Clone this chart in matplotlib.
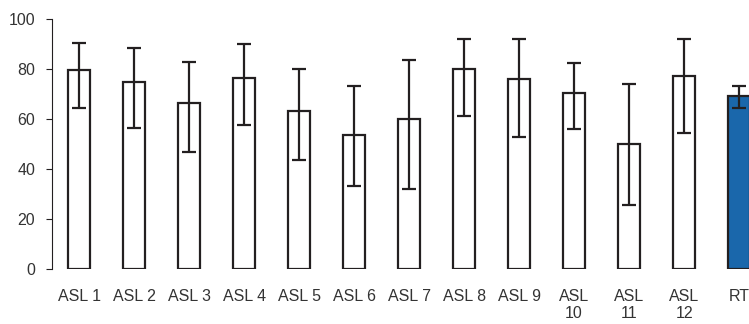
import matplotlib.pyplot as plt
import numpy as np

plt.rcParams['font.family'] = ['Liberation Sans', 'DejaVu Sans']

labels = ['ASL 1', 'ASL 2', 'ASL 3', 'ASL 4', 'ASL 5', 'ASL 6', 'ASL 7',
          'ASL 8', 'ASL 9', 'ASL\n10', 'ASL\n11', 'ASL\n12', 'RT']
means = [79.6, 75.0, 66.6, 76.6, 63.3, 53.7, 60.1, 80.0, 76.1, 70.6, 50.0, 77.3, 69.3]
err_high = [90.4, 88.6, 82.9, 90.2, 80.0, 73.3, 83.7, 92.2, 92.0, 82.6, 74.0, 92.1, 73.4]
err_low = [64.6, 56.6, 47.0, 57.6, 43.8, 33.3, 32.2, 61.3, 52.8, 56.2, 25.8, 54.5, 64.6]

ink = '#231f20'
fills = ['white'] * 12 + ['#1a67ab']

means = np.array(means)
yerr = [means - np.array(err_low), np.array(err_high) - means]
x = np.arange(len(labels))

fig = plt.figure(figsize=(7.49, 3.24), dpi=100)
ax = fig.add_axes([0.069, 0.169, 0.931, 0.771])

ax.bar(x, means, width=0.4, color=fills, edgecolor=ink, linewidth=1.6,
       yerr=yerr, error_kw=dict(ecolor=ink, elinewidth=1.6, capsize=5, capthick=1.6))

ax.set_xlim(-0.5, 12.18)
ax.set_ylim(0, 100)
ax.set_yticks([0, 20, 40, 60, 80, 100])
ax.set_xticks(x)
ax.set_xticklabels(labels)

for s in ['top', 'right', 'bottom']:
    ax.spines[s].set_visible(False)
ax.spines['left'].set_color(ink)
ax.spines['left'].set_linewidth(0.8)
ax.tick_params(axis='y', length=4, width=0.8, color=ink, labelsize=11.5,
               labelcolor='#333333', pad=8)
ax.tick_params(axis='x', length=0, labelsize=11.5, labelcolor='#333333', pad=14)

fig.savefig('out.png', dpi=100)
